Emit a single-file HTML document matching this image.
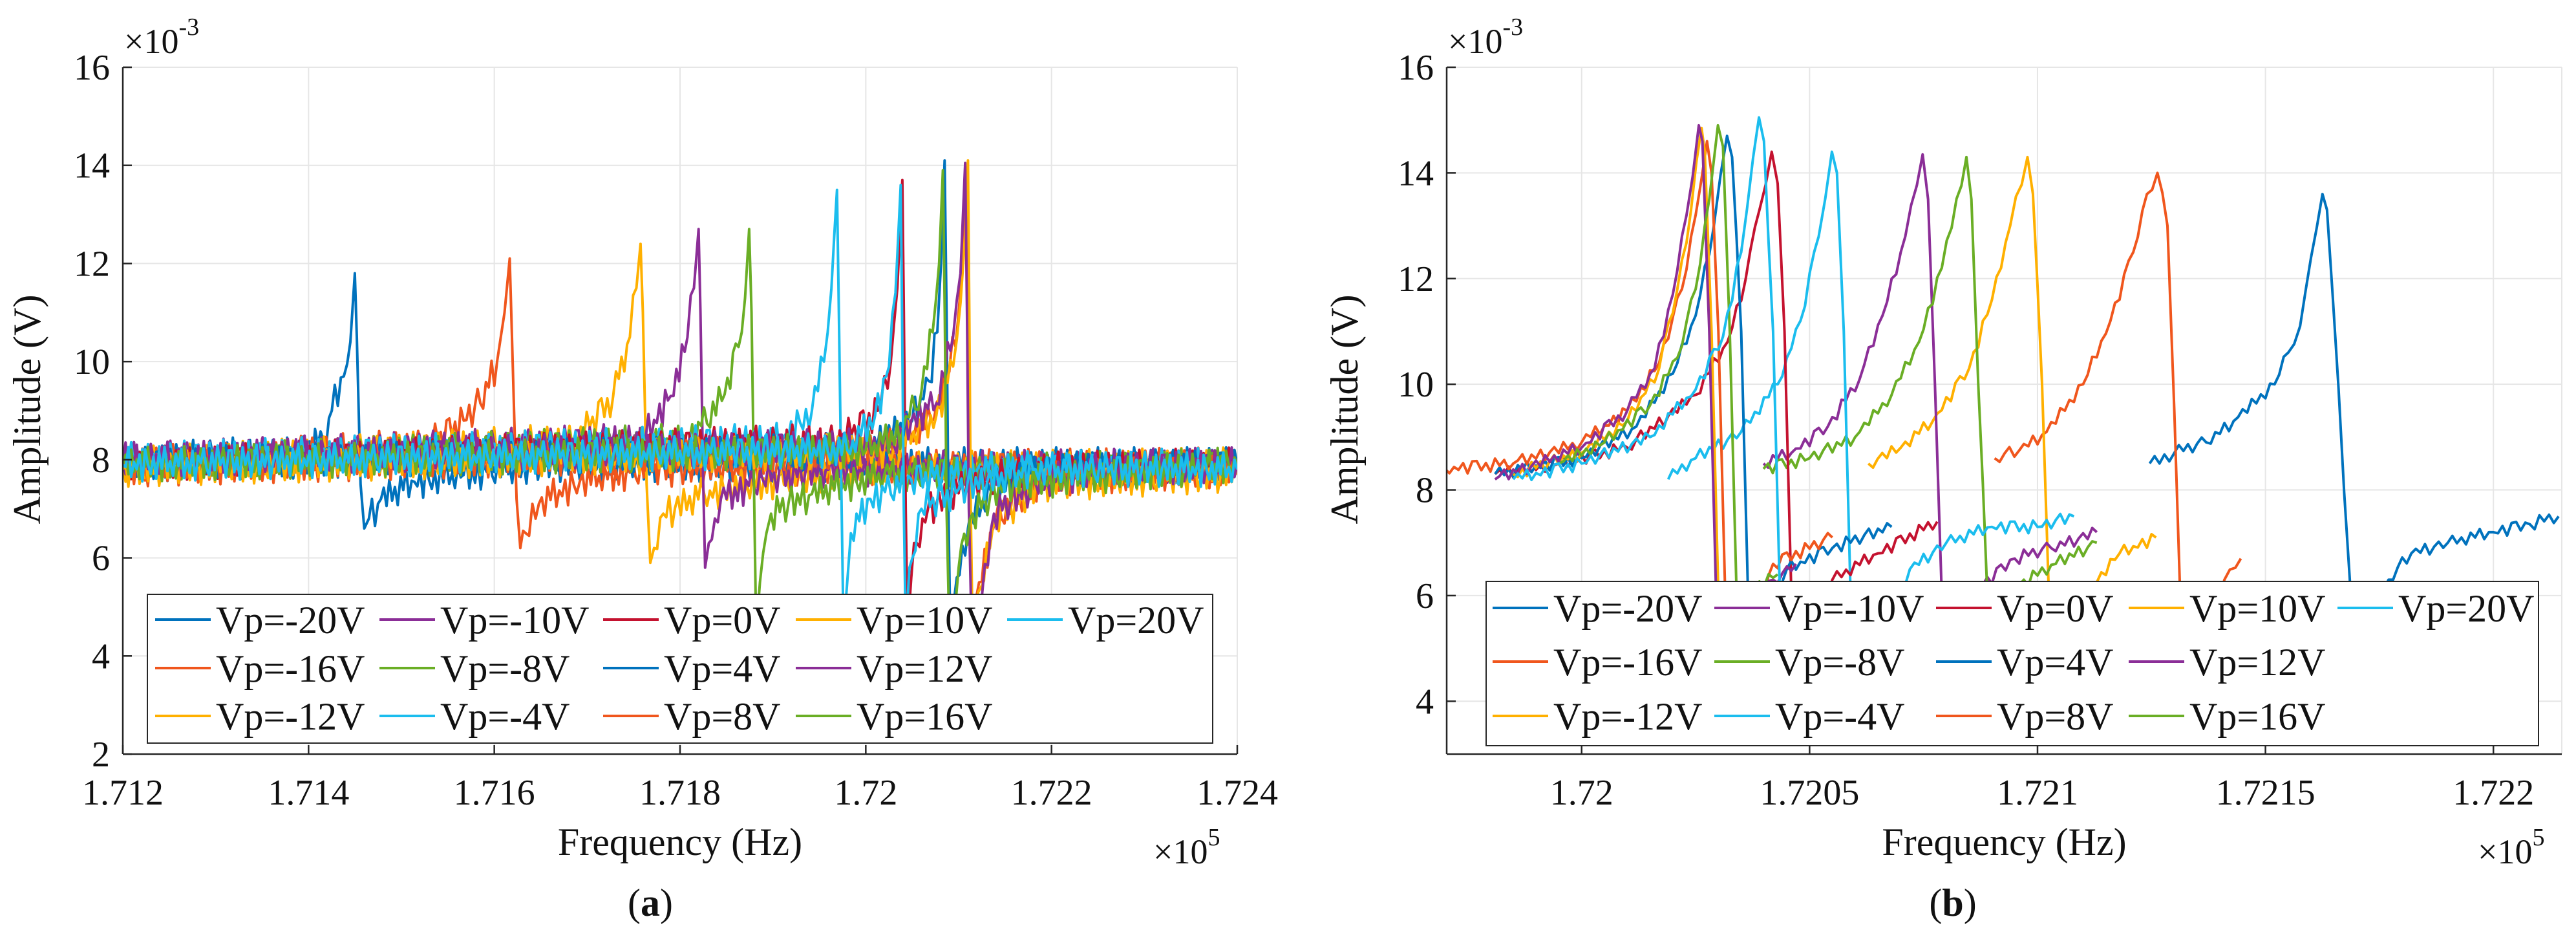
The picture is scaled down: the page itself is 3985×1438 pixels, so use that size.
<!DOCTYPE html>
<html><head><meta charset="utf-8">
<style>
html,body{margin:0;padding:0;background:#fff;}
svg{display:block;font-family:"Liberation Serif",serif;}
</style></head>
<body>
<svg id="fig" width="3985" height="1438" viewBox="0 0 3985 1438" xmlns="http://www.w3.org/2000/svg">
<defs>
<clipPath id="clipA"><rect x="190" y="104" width="1724" height="1062"/></clipPath>
<clipPath id="clipB"><rect x="2238" y="104" width="1725" height="1062"/></clipPath>
</defs>
<g id="panelA"></g>
<g id="panelB"></g>
</svg>
<script>
// ---------- data ----------
const labels = ["Vp=-20V","Vp=-16V","Vp=-12V","Vp=-10V","Vp=-8V","Vp=-4V","Vp=0V","Vp=4V","Vp=8V","Vp=10V","Vp=12V","Vp=16V","Vp=20V"];
const colors = ["#0072BD","#F0561D","#FFB000","#8B2E97","#6AAE25","#1BBDEE","#C4122F","#0072BD","#F0561D","#FFB000","#8B2E97","#6AAE25","#1BBDEE"];
const ticksAx = [171200,171400,171600,171800,172000,172200,172400];
const tickLabelsAx = ["1.712","1.714","1.716","1.718","1.72","1.722","1.724"];
const ticksAy = [2,4,6,8,10,12,14,16];
const ticksBx = [172000,172050,172100,172150,172200];
const tickLabelsBx = ["1.72","1.7205","1.721","1.7215","1.722"];
const ticksBy = [4,6,8,10,12,14,16];
const noiseA = [0.25,-0.2,0.1,-0.35,0.3,-0.05,0.2,-0.3,0.05,0.35,-0.25,0.15,-0.1,0.3,-0.35,0.0,0.2,-0.2,0.3,-0.15,0.1,-0.3,0.25,-0.05,0.35,-0.25,0.05,-0.1,0.2,-0.35,0.3,0.0,-0.2,0.15,-0.3,0.25,-0.1,0.35,-0.15,0.05,-0.25,0.2,-0.05,0.3,-0.3,0.1,-0.2,0.25,-0.35,0.15,0.0,0.3,-0.1,-0.25,0.2,-0.15,0.35,-0.05,0.1,-0.3,0.25];
const noiseB = [0.1,-0.08,0.05,-0.12,0.12,-0.02,0.08,-0.1,0.03,0.12,-0.09,0.06,-0.04,0.1,-0.12,0.0,0.07,-0.07,0.11,-0.05,0.04,-0.11,0.09,-0.02,0.12,-0.09,0.02,-0.04,0.08,-0.12,0.1];
// Panel (a) series: [frequency Hz, amplitude x1e-3 V]
const a_m20 = [[171200,7.9],[171300,8.1],[171380,8.1],[171416,8.4],[171425,9.0],[171438,9.7],[171445,10.4],[171449.8,11.8],[171452,10.5],[171456,7.5],[171460,6.6],[171465,6.8],[171478,7.2],[171514,7.55],[171567,7.7],[171650,7.9],[172400,7.9]];
const a_m16 = [[171200,7.9],[171530,8.3],[171567,8.8],[171585,9.15],[171603,10.0],[171611,11.0],[171616.6,12.1],[171619,10.5],[171624,7.2],[171628,6.2],[171634,6.5],[171648,7.1],[171692,7.55],[171764,7.8],[172400,7.9]];
const a_m12 = [[171200,7.9],[171690,8.4],[171728,9.3],[171746,10.5],[171753,11.5],[171757.5,12.4],[171760,11],[171764,7.5],[171768,5.9],[171772,6.2],[171782,6.9],[171826,7.3],[171915,7.6],[172000,7.8],[172400,7.9]];
const a_m10 = [[171200,8.0],[171760,8.4],[171790,9.3],[171808,10.5],[171815,11.5],[171820,12.7],[171822,11],[171825,7.5],[171827,5.8],[171831,6.3],[171844,7.2],[171889,7.6],[171960,7.8],[172400,7.9]];
const a_m8 = [[171200,7.9],[171810,8.4],[171845,9.2],[171863,10.3],[171870,11.3],[171874.4,12.7],[171877,11],[171880,7],[171882,4.5],[171886,5.5],[171893,6.5],[171898,6.9],[171942,7.3],[172020,7.7],[172400,7.9]];
const a_m4 = [[171200,8.0],[171910,8.4],[171942,9.0],[171955,10.0],[171963,11.5],[171969,13.5],[171971,11],[171974,7],[171976,4.5],[171980,5.5],[171984,6.5],[172005,7.2],[172049,7.6],[172120,7.8],[172400,7.9]];
const a_0 = [[171200,7.9],[171975,8.4],[172013,9.0],[172027,10.0],[172034,11.5],[172039.4,13.7],[172041,11],[172043,7],[172045,4.5],[172049,5.6],[172055,6.3],[172067,7.0],[172112,7.5],[172180,7.8],[172400,7.9]];
const a_4 = [[171200,7.9],[172000,8.2],[172050,8.8],[172068,9.6],[172077,10.6],[172081,12.0],[172084.9,14.1],[172087,11],[172089,7],[172091,4.5],[172098,5.6],[172110,6.6],[172138,7.5],[172200,7.8],[172400,7.9]];
const a_8 = [[171200,7.8],[172020,8.2],[172070,8.8],[172090,9.8],[172100,11.0],[172105,12.2],[172108,13.5],[172110,11],[172112,7],[172114,4.5],[172122,5.5],[172140,6.8],[172190,7.6],[172400,7.8]];
const a_10 = [[171200,7.8],[172030,8.2],[172076,8.9],[172094,9.9],[172102,11.2],[172107,12.6],[172110,14.1],[172111.5,11],[172113,7],[172115,4.5],[172124,5.4],[172140,6.8],[172190,7.5],[172400,7.7]];
const a_12 = [[171200,8.0],[172030,8.3],[172049,8.8],[172076,9.15],[172094,10.5],[172102,11.8],[172107,14.05],[172109,11],[172111,7],[172114,4.5],[172125,5.2],[172138,6.9],[172183,7.5],[172250,7.8],[172400,7.9]];
const a_16 = [[171200,7.9],[172000,8.2],[172040,8.6],[172060,9.4],[172072,10.6],[172079,12.0],[172083,13.9],[172085,11],[172087,7],[172090,4.5],[172100,5.8],[172115,6.9],[172150,7.5],[172400,7.9]];
const a_20 = [[171200,7.9],[171980,8.2],[172010,8.9],[172025,9.9],[172032,11.4],[172037.6,13.6],[172039,11],[172041,7],[172043,4.5],[172047,5.8],[172060,7.0],[172100,7.4],[172180,7.8],[172400,7.8]];
// Panel (b) series
const b_m20 = [[172124.6,8.5],[172130,8.7],[172137,8.9],[172143,9.3],[172152,10.0],[172155,10.6],[172157.6,11.1],[172160,12.4],[172162.5,13.6],[172163.5,13.3],[172164.8,11.6],[172168.5,6.3],[172169.5,3.2]];
const b_m20_low = [[172172,5.0],[172177,6.3],[172182,6.8],[172190,7.0],[172200,7.2],[172208,7.35],[172214.3,7.5]];
const b_m16 = [[172090.6,8.6],[172096,8.75],[172102,9.1],[172110,10.0],[172116,11.2],[172121,12.5],[172124,13.6],[172126.3,14.0],[172128.5,13.0],[172130,9.5],[172131.3,6.0],[172132,3.2]];
const b_m16_low = [[172139,5.9],[172141,6.3],[172144.6,6.7]];
const b_m12 = [[172062.9,8.5],[172070,8.8],[172077,9.3],[172085,10.3],[172090,11.6],[172094,13.0],[172097.8,14.3],[172099,13.6],[172101,10],[172102.5,6.0],[172103,3.2]];
const b_m12_low = [[172109,5.8],[172112,6.2],[172118,6.8],[172126,7.1]];
const b_m10 = [[172039.9,8.5],[172046,8.7],[172054,9.2],[172061,10.1],[172066,11.3],[172071,12.8],[172074.8,14.35],[172076,13.5],[172077.5,10],[172079,6.0],[172080,3.2]];
const b_m10_low = [[172083,5.6],[172088,6.2],[172095,6.7],[172103,6.9],[172113,7.2]];
const b_m8 = [[172039.9,8.4],[172050,8.6],[172060,9.0],[172068,9.8],[172074,10.8],[172079,12.2],[172084.4,14.3],[172085.5,13.5],[172087,10],[172089,6.0],[172089.5,3.2]];
const b_m8_low = [[172093,5.6],[172096,6.2],[172104,6.6],[172113,7.0]];
const b_m4 = [[172019,8.2],[172025,8.6],[172035,9.1],[172043,10.0],[172048,11.2],[172052,12.8],[172054.9,14.4],[172056,14.0],[172057.5,11],[172059,6.0],[172060,3.2]];
const b_m4_low = [[172067,5.5],[172072,6.5],[172080,7.0],[172090,7.3],[172100,7.3],[172108,7.5]];
const b_0 = [[171981,8.3],[171995,8.5],[172010,8.8],[172025,9.8],[172032,10.8],[172036,12.0],[172039,13.3],[172041.7,14.4],[172043,13.8],[172044.5,11],[172046,6.0],[172047,3.2]];
const b_0_low = [[172050,5.5],[172055,6.3],[172065,6.8],[172078,7.4]];
const b_4 = [[171981,8.3],[172000,8.6],[172012,9.2],[172020,10.2],[172025,11.3],[172029,13.0],[172031.9,14.7],[172033,14.3],[172035,11],[172036.5,6.0],[172037,3.2]];
const b_4_low = [[172041,5.6],[172045,6.5],[172055,6.9],[172068,7.3]];
const b_8 = [[171970,8.4],[171985,8.5],[172000,8.9],[172010,9.5],[172017,10.4],[172022,11.8],[172025,13.2],[172027.5,14.6],[172028.5,14.0],[172030,11],[172031.5,6.0],[172032,3.2]];
const b_8_low = [[172040,6.0],[172042,6.6],[172055,7.1]];
const b_10 = [[171985,8.3],[172000,8.7],[172010,9.3],[172017,10.3],[172021,11.8],[172024,13.3],[172026.3,14.85],[172027,14.4],[172028.5,11],[172030,6.0],[172030.5,3.2]];
const b_10_low = [];
const b_12 = [[171981,8.2],[172000,8.8],[172010,9.5],[172016,10.3],[172020,11.7],[172023,13.2],[172025.7,14.9],[172026.5,14.6],[172028,11],[172029.5,6.0],[172030,3.2]];
const b_12_low = [[172038,5.8],[172042,6.3],[172047,6.6]];
const b_16 = [[171995,8.5],[172005,8.9],[172015,9.6],[172021,10.5],[172025,11.8],[172028,13.5],[172029.9,14.9],[172031,14.5],[172032.5,11],[172034,6.0],[172034.5,3.2]];
const b_16_low = [[172036,6.1],[172043,6.4]];
const b_20 = [[171985,8.2],[172000,8.5],[172015,9.0],[172025,9.9],[172031,10.9],[172035,12.5],[172038.9,15.05],[172040,14.6],[172042,11],[172043.5,6.0],[172044,3.2]];
const b_20_low = [];

const seriesA = [a_m20,a_m16,a_m12,a_m10,a_m8,a_m4,a_0,a_4,a_8,a_10,a_12,a_16,a_20];
const seriesB = [b_m20,b_m16,b_m12,b_m10,b_m8,b_m4,b_0,b_4,b_8,b_10,b_12,b_16,b_20];
const seriesBlow = [b_m20_low,b_m16_low,b_m12_low,b_m10_low,b_m8_low,b_m4_low,b_0_low,b_4_low,b_8_low,b_10_low,b_12_low,b_16_low,b_20_low];

const NS = "http://www.w3.org/2000/svg";
function mk(tag, attrs, parent){
  const e = document.createElementNS(NS, tag);
  for (const k in attrs) e.setAttribute(k, attrs[k]);
  parent.appendChild(e); return e;
}
function txt(parent, x, y, s, size, anchor, extra){
  const t = mk("text", Object.assign({x:x, y:y, "font-size":size, "text-anchor":anchor, fill:"#111"}, extra||{}), parent);
  t.textContent = s; return t;
}
// resample key points at a fixed step, overlaying the measured noise record
function densify(pts, step, noise, shift){
  if (pts.length < 2) return pts;
  const out = []; let k = shift;
  for (let i = 0; i < pts.length - 1; i++){
    const [x0,y0] = pts[i], [x1,y1] = pts[i+1];
    const n = Math.max(1, Math.floor((x1 - x0) / step));
    for (let j = 0; j < n; j++){
      const t = j / n;
      const amp = (j === 0) ? 0 : noise[(k++) % noise.length];
      out.push([x0 + t*(x1-x0), y0 + t*(y1-y0) + amp]);
    }
  }
  out.push(pts[pts.length-1]);
  return out;
}

function panel(g, cfg){
  const X = v => cfg.x0 + (v - cfg.xmin) / (cfg.xmax - cfg.xmin) * (cfg.x1 - cfg.x0);
  const Y = v => cfg.y1 - (v - cfg.ymin) / (cfg.ymax - cfg.ymin) * (cfg.y1 - cfg.y0);
  const grid = mk("g", {}, g);
  
  
  cfg.xt.forEach(v => mk("line", {x1:X(v), x2:X(v), y1:cfg.y0, y2:cfg.y1, stroke:"#e6e6e6", "stroke-width":2}, grid));
  cfg.yt.forEach(v => mk("line", {x1:cfg.x0, x2:cfg.x1, y1:Y(v), y2:Y(v), stroke:"#e6e6e6", "stroke-width":2}, grid));
  mk("line", {x1:cfg.x0, x2:cfg.x1, y1:cfg.y0, y2:cfg.y0, stroke:"#e6e6e6", "stroke-width":2}, grid);
  mk("line", {x1:cfg.x1, x2:cfg.x1, y1:cfg.y0, y2:cfg.y1, stroke:"#e6e6e6", "stroke-width":2}, grid);
  const sg = mk("g", {"clip-path":"url(#"+cfg.clip+")"}, g);
  
  
  cfg.series.forEach((arr, i) => {
    [arr, (cfg.low||[])[i]||[]].forEach((raw, j) => {
      if (!raw.length) return;
      const pts = densify(raw, cfg.step, cfg.noise, i*7 + j*3);
      const p = mk("polyline", {points: pts.map(q => X(q[0]).toFixed(1)+","+Y(q[1]).toFixed(1)).join(" "), fill:"none", stroke:colors[i], "stroke-width":4, "stroke-linejoin":"round"}, sg);
      
      
    });
  });
  const ax = mk("g", {}, g);
  
  
  mk("line", {x1:cfg.x0, x2:cfg.x0, y1:cfg.y0, y2:cfg.y1, stroke:"#262626", "stroke-width":2.5}, ax);
  mk("line", {x1:cfg.x0, x2:cfg.x1, y1:cfg.y1, y2:cfg.y1, stroke:"#262626", "stroke-width":2.5}, ax);
  cfg.xt.forEach((v, i) => {
    mk("line", {x1:X(v), x2:X(v), y1:cfg.y1, y2:cfg.y1-14, stroke:"#262626", "stroke-width":2.5}, ax);
    const t = txt(ax, X(v), cfg.y1+78, cfg.xl[i], 56, "middle");
    
    
  });
  cfg.yt.forEach(v => {
    mk("line", {x1:cfg.x0, x2:cfg.x0+14, y1:Y(v), y2:Y(v), stroke:"#262626", "stroke-width":2.5}, ax);
    const t = txt(ax, cfg.x0-20, Y(v)+19, String(v), 56, "end");
    
    
  });
  const e1 = txt(g, cfg.x0+2, 82, "×10", 54, "start");
  
  
  const s1 = mk("tspan", {dy:-28, "font-size":38}, e1); s1.textContent = "-3";
  const e2 = txt(g, cfg.x1-130, 1335, "×10", 54, "start");
  
  
  const s2 = mk("tspan", {dy:-28, "font-size":38}, e2); s2.textContent = "5";
  const xl = txt(g, (cfg.x0+cfg.x1)/2, 1322, "Frequency (Hz)", 60, "middle");
  
  
  const yl = txt(g, 0, 0, "Amplitude (V)", 60, "middle", {transform:"translate("+cfg.ylx+",633) rotate(-90)"});
  
  
  const pl = txt(g, cfg.px, 1416, "(", 60, "middle");
  
  
  const b1 = mk("tspan", {"font-weight":"bold"}, pl); b1.textContent = cfg.letter;
  const b2 = mk("tspan", {}, pl); b2.textContent = ")";
  const lg = mk("g", {}, g);
  
  
  const L = cfg.leg;
  mk("rect", {x:L.x, y:L.y, width:L.w, height:L.h, fill:"#fff", stroke:"#262626", "stroke-width":2}, lg);
  labels.forEach((lab, i) => {
    const col = Math.floor(i/3), row = i%3;
    const ey = L.rows[row];
    const it = mk("g", {}, lg);
    
    
    mk("line", {x1:L.cols[col], x2:L.cols[col]+86, y1:ey, y2:ey, stroke:colors[i], "stroke-width":4}, it);
    txt(it, L.cols[col]+94, ey+21, lab, 60, "start");
  });
}

panel(document.getElementById("panelA"), {
  x0:190, x1:1914, y0:104, y1:1166, xmin:171200, xmax:172400, ymin:2, ymax:16,
  xt:ticksAx, xl:tickLabelsAx, yt:ticksAy, series:seriesA, clip:"clipA", ylx:62, px:1006, letter:"a",
  step:3, noise:noiseA,
  leg:{x:228, y:919, w:1648, h:230, rows:[958,1033,1107], cols:[240,587,933,1231,1558]}
});
panel(document.getElementById("panelB"), {
  x0:2238, x1:3963, y0:104, y1:1166, xmin:171970.4, xmax:172215, ymin:3, ymax:16,
  xt:ticksBx, xl:tickLabelsBx, yt:ticksBy, series:seriesB, low:seriesBlow, clip:"clipB", ylx:2100, px:3021, letter:"b",
  step:1, noise:noiseB,
  leg:{x:2299, y:899, w:1628, h:254, rows:[940,1023,1107], cols:[2309,2652,2995,3293,3616]}
});
</script>
</body></html>
